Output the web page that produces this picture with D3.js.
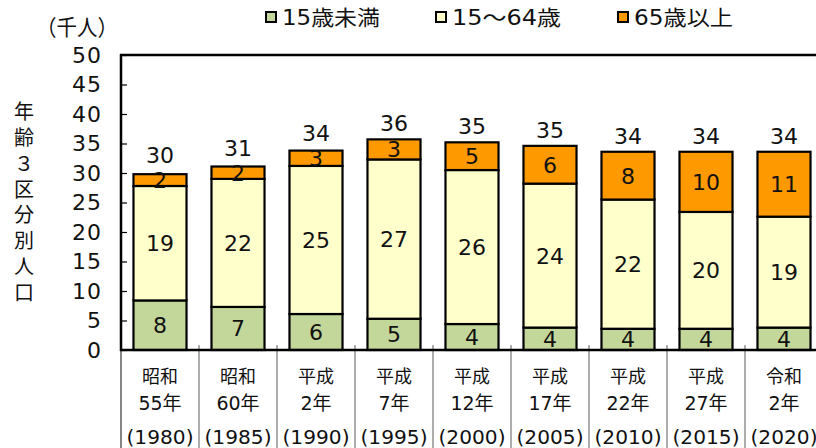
<!DOCTYPE html>
<html><head><meta charset="utf-8">
<script src="https://cdn.jsdelivr.net/npm/d3@7/dist/d3.min.js"></script>
<style>
body{margin:0;background:#fff;}
svg text{font-family:"DejaVu Sans","Noto Sans CJK JP",sans-serif;fill:#111;}
</style></head>
<body><svg id="c" width="816" height="448"></svg>
<script>
const eras = ["昭和","昭和","平成","平成","平成","平成","平成","平成","令和"];
const eraYears = ["55年","60年","2年","7年","12年","17年","22年","27年","2年"];
const years = ["(1980)","(1985)","(1990)","(1995)","(2000)","(2005)","(2010)","(2015)","(2020)"];
const under15 = [8.4, 7.3, 6.1, 5.3, 4.4, 3.8, 3.6, 3.6, 3.8];
const age15to64 = [19.4, 21.7, 25.1, 27.0, 26.1, 24.4, 21.9, 19.8, 18.8];
const over65 = [2.0, 2.1, 2.6, 3.4, 4.7, 6.4, 8.1, 10.2, 11.0];
const seriesNames = ["15歳未満","15～64歳","65歳以上"];
const seriesColors = ["#c4d79b","#ffffcc","#ff9900"];
const yTicks = [0,5,10,15,20,25,30,35,40,45,50];
const yUnit = "（千人）";
const yTitle = "年齢３区分別人口";

const svg = d3.select("#c");
const pL = 121, pR = 823, pT = 55, pB = 350;
const keys = ["u","m","o"];
const rows = years.map((y,i)=>({key:y, u:under15[i], m:age15to64[i], o:over65[i]}));
const x = d3.scaleBand().domain(years).range([pL,pR]).paddingInner(0.32).paddingOuter(0.16);
const y = d3.scaleLinear().domain([0,50]).range([pB,pT]);
const stack = d3.stack().keys(keys)(rows);

// separators in the category area
const step = x.step();
years.forEach((yr,i)=>{
  if(i===0) return;
  const xx = pL + i*step;
  svg.append("line").attr("x1",xx).attr("x2",xx).attr("y1",pB-5).attr("y2",448)
    .attr("stroke","#777").attr("stroke-width",1.2);
});
svg.append("line").attr("x1",pL).attr("x2",pL).attr("y1",pB).attr("y2",448).attr("stroke","#333").attr("stroke-width",1.2);

// bars
stack.forEach((s,si)=>{
  svg.append("g").selectAll("rect").data(s).join("rect")
    .attr("x",d=>x(d.data.key)).attr("width",x.bandwidth())
    .attr("y",d=>y(d[1])).attr("height",d=>y(d[0])-y(d[1]))
    .attr("fill",seriesColors[si]).attr("stroke","#000").attr("stroke-width",2.2);
});
// segment labels
stack.forEach((s,si)=>{
  svg.append("g").selectAll("text").data(s).join("text")
    .attr("x",d=>x(d.data.key)+x.bandwidth()/2)
    .attr("y",d=>y((d[0]+d[1])/2))
    .attr("dy","0.36em").attr("text-anchor","middle").attr("font-size",22)
    .text(d=>Math.round(d[1]-d[0]));
});
// totals (kept clear of the top segment's label)
svg.append("g").selectAll("text").data(rows).join("text")
  .attr("x",d=>x(d.key)+x.bandwidth()/2)
  .attr("y",d=>{const t=d.u+d.m+d.o; return Math.min(y(t)-16, y(t-d.o/2)-25);})
  .attr("dy","0.36em").attr("text-anchor","middle").attr("font-size",22)
  .text(d=>Math.round(d.u+d.m+d.o));

// y axis
const yAxis = d3.axisRight(y).tickValues(yTicks).tickSize(6).tickFormat("");
const ga = svg.append("g").attr("transform",`translate(${pL},0)`).call(yAxis);
ga.select(".domain").remove();
ga.selectAll(".tick line").attr("stroke","#000").attr("stroke-width",1.2);
svg.append("g").selectAll("text").data(yTicks).join("text")
  .attr("x",102).attr("y",d=>y(d)).attr("dy","0.36em").attr("text-anchor","end")
  .attr("font-size",22).attr("letter-spacing",1).text(d=>d);
svg.append("line").attr("x1",pL).attr("x2",pL).attr("y1",pT-1).attr("y2",pB+1).attr("stroke","#000").attr("stroke-width",2.5);
svg.append("line").attr("x1",pL-1).attr("x2",816).attr("y1",pT).attr("y2",pT).attr("stroke","#000").attr("stroke-width",2.5);
svg.append("line").attr("x1",pL-1).attr("x2",816).attr("y1",pB).attr("y2",pB).attr("stroke","#000").attr("stroke-width",2.5);

// category labels
const cx = d => x(d)+x.bandwidth()/2;
svg.append("g").selectAll("text").data(years).join("text")
  .attr("x",cx).attr("y",377).attr("dy","0.36em").attr("text-anchor","middle").attr("font-size",18)
  .text((d,i)=>eras[i]);
svg.append("g").selectAll("text").data(years).join("text")
  .attr("x",cx).attr("y",403).attr("dy","0.36em").attr("text-anchor","middle").attr("font-size",19)
  .text((d,i)=>eraYears[i]);
svg.append("g").selectAll("text").data(years).join("text")
  .attr("x",cx).attr("y",437).attr("dy","0.36em").attr("text-anchor","middle").attr("font-size",19)
  .attr("textLength",67).attr("lengthAdjust","spacingAndGlyphs")
  .text(d=>d);

// unit label
svg.append("text").attr("x",77).attr("y",27).attr("dy","0.36em").attr("text-anchor","middle")
  .attr("font-size",22).attr("textLength",82).attr("lengthAdjust","spacingAndGlyphs").text(yUnit);
// vertical title
svg.append("g").selectAll("text").data(Array.from(yTitle)).join("text")
  .attr("x",24).attr("y",(d,i)=>112+i*25.8).attr("dy","0.36em").attr("text-anchor","middle")
  .attr("font-size",20).text(d=>d);

// legend
const legX = [265,435,617];
const legW = [98,109,99];
seriesNames.forEach((n,i)=>{
  svg.append("rect").attr("x",legX[i]+1).attr("y",12).attr("width",10).attr("height",10)
    .attr("fill",seriesColors[i]).attr("stroke","#000").attr("stroke-width",2);
  svg.append("text").attr("x",legX[i]+17).attr("y",17).attr("dy","0.36em").attr("font-size",21)
    .attr("textLength",legW[i]).attr("lengthAdjust","spacingAndGlyphs").text(n);
});
</script></body></html>
